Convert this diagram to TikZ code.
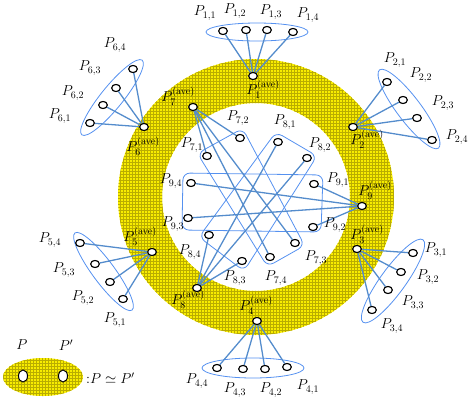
\documentclass[tikz,border=0pt]{standalone}
\usetikzlibrary{shapes.geometric,patterns}
\definecolor{connc}{RGB}{84,140,204}
\definecolor{grpc}{RGB}{85,145,240}
\definecolor{yel}{RGB}{248,236,0}
\definecolor{yelgrid}{RGB}{185,172,0}
\tikzset{
  pt/.style={draw=black, fill=white, ellipse, line width=1pt, minimum width=8.6pt, minimum height=7pt, inner sep=0pt},
  bigpt/.style={draw=black, fill=white, ellipse, line width=1pt, minimum width=9pt, minimum height=12pt, inner sep=0pt},
  lbl/.style={inner sep=0pt, font=\Large},
  conn/.style={draw=connc, line width=1.3pt},
  grp/.style={draw=grpc, line width=0.8pt, ellipse, inner sep=0pt},
  grpr/.style={draw=grpc, line width=0.8pt, rounded corners=7pt},
  ave/.style={inner sep=0pt, font=\Large}
}
\newcommand{\avel}[1]{$P_{#1}^{(\mathrm{ave})}$}
\begin{document}
\begin{tikzpicture}[x=1pt,y=-1pt]
\useasboundingbox (0,0) rectangle (469,405);
% annulus
\coordinate (ctr) at (256,197);
\fill[yel, even odd rule] (ctr) circle (138) (ctr) circle (94);
\fill[pattern=grid, pattern color=yelgrid, even odd rule] (ctr) circle (138) (ctr) circle (94);

% group outlines (ellipses)
\node[grp, minimum width=102pt, minimum height=18pt] (g1) at (257,32) {};
\node[grp, minimum width=98pt, minimum height=24pt, rotate=-53] (g2) at (409,109) {};
\node[grp, minimum width=102pt, minimum height=25pt, rotate=54] (g3) at (393,281) {};
\node[grp, minimum width=102pt, minimum height=20pt] (g4) at (253,368) {};
\node[grp, minimum width=96pt, minimum height=22pt, rotate=-53.5] (g5) at (103.5,271.5) {};
\node[grp, minimum width=96pt, minimum height=22pt, rotate=51] (g6) at (112,97.5) {};

% inner group outlines
\draw[grpr] (197.4,153.4) -- (242.6,128.4) -- (304.6,245.6) -- (267.4,266.6) -- cycle;
\draw[grpr] (276,132) -- (317,156) -- (244,271) -- (199,237) -- cycle;
\draw[grpr] (183,173) -- (323,175) -- (321,232) -- (182,230) -- cycle;

% average nodes
\node[pt] (a1) at (253,76) {};
\node[pt] (a2) at (353,127) {};
\node[pt] (a3) at (357,249) {};
\node[pt] (a4) at (257,321) {};
\node[pt] (a5) at (152,252) {};
\node[pt] (a6) at (144,127) {};
\node[pt] (a7) at (193,107) {};
\node[pt] (a8) at (197,288) {};
\node[pt] (a9) at (362,206) {};

% group points
\node[pt] (p11) at (223,31) {};
\node[pt] (p12) at (246,30) {};
\node[pt] (p13) at (267,30) {};
\node[pt] (p14) at (293,32) {};
\node[pt] (p21) at (387,82) {};
\node[pt] (p22) at (403,100) {};
\node[pt] (p23) at (417,118) {};
\node[pt] (p24) at (432,140) {};
\node[pt] (p31) at (413,253) {};
\node[pt] (p32) at (401,272) {};
\node[pt] (p33) at (388,290) {};
\node[pt] (p34) at (372,310) {};
\node[pt] (p41) at (287,367) {};
\node[pt] (p42) at (265,369) {};
\node[pt] (p43) at (243,369) {};
\node[pt] (p44) at (217,368) {};
\node[pt] (p51) at (123,299) {};
\node[pt] (p52) at (110,282) {};
\node[pt] (p53) at (95,264) {};
\node[pt] (p54) at (80,243) {};
\node[pt] (p61) at (90,123) {};
\node[pt] (p62) at (103,105) {};
\node[pt] (p63) at (116,88) {};
\node[pt] (p64) at (133,69) {};
\node[pt] (p71) at (207,156) {};
\node[pt] (p72) at (240,138) {};
\node[pt] (p73) at (295,243) {};
\node[pt] (p74) at (270,257) {};
\node[pt] (p81) at (278,142) {};
\node[pt] (p82) at (307,158) {};
\node[pt] (p83) at (242,261) {};
\node[pt] (p84) at (209,235) {};
\node[pt] (p91) at (314,184) {};
\node[pt] (p92) at (313,227) {};
\node[pt] (p93) at (188,218) {};
\node[pt] (p94) at (191,183) {};

% connectors
\foreach \g in {1,...,9}{
  \foreach \k in {1,...,4}{
    \draw[conn] (a\g) -- (p\g\k);
  }
}
% redraw nodes on top
\foreach \n in {a1,a2,a3,a4,a5,a6,a7,a8,a9}{
  \node[pt] at (\n) {};
}
\foreach \g in {1,...,9}{
  \foreach \k in {1,...,4}{
    \node[pt] at (p\g\k) {};
  }
}

% labels
\node[ave] (la1) at (263,89) {\avel{1}};
\node[ave] (la2) at (367,139) {\avel{2}};
\node[ave] (la3) at (367,234) {\avel{3}};
\node[ave] (la4) at (256,305) {\avel{4}};
\node[ave] (la5) at (140,236) {\avel{5}};
\node[ave] (la6) at (143,146) {\avel{6}};
\node[ave] (la7) at (178,96) {\avel{7}};
\node[ave] (la8) at (188,299) {\avel{8}};
\node[ave] (la9) at (375,190) {\avel{9}};

\node[lbl] (l11) at (205,13) {$P_{1,1}$};
\node[lbl] (l12) at (235,11) {$P_{1,2}$};
\node[lbl] (l13) at (271,12) {$P_{1,3}$};
\node[lbl] (l14) at (308,15) {$P_{1,4}$};
\node[lbl] (l21) at (395,60) {$P_{2,1}$};
\node[lbl] (l22) at (421,75) {$P_{2,2}$};
\node[lbl] (l23) at (443,103) {$P_{2,3}$};
\node[lbl] (l24) at (457,137) {$P_{2,4}$};
\node[lbl] (l31) at (436,250) {$P_{3,1}$};
\node[lbl] (l32) at (428,277) {$P_{3,2}$};
\node[lbl] (l33) at (413,303) {$P_{3,3}$};
\node[lbl] (l34) at (392,326) {$P_{3,4}$};
\node[lbl] (l41) at (308,387) {$P_{4,1}$};
\node[lbl] (l42) at (271,390) {$P_{4,2}$};
\node[lbl] (l43) at (235,390) {$P_{4,3}$};
\node[lbl] (l44) at (197,381) {$P_{4,4}$};
\node[lbl] (l51) at (115,320) {$P_{5,1}$};
\node[lbl] (l52) at (83,298) {$P_{5,2}$};
\node[lbl] (l53) at (64,270) {$P_{5,3}$};
\node[lbl] (l54) at (50,240) {$P_{5,4}$};
\node[lbl] (l61) at (60,116) {$P_{6,1}$};
\node[lbl] (l62) at (73,93) {$P_{6,2}$};
\node[lbl] (l63) at (90,68) {$P_{6,3}$};
\node[lbl] (l64) at (115,45) {$P_{6,4}$};
\node[lbl] (l71) at (192,145) {$P_{7,1}$};
\node[lbl] (l72) at (238,118) {$P_{7,2}$};
\node[lbl] (l73) at (316,258) {$P_{7,3}$};
\node[lbl] (l74) at (276,278) {$P_{7,4}$};
\node[lbl] (l81) at (285,122) {$P_{8,1}$};
\node[lbl] (l82) at (320,145) {$P_{8,2}$};
\node[lbl] (l83) at (235,278) {$P_{8,3}$};
\node[lbl] (l84) at (190,252) {$P_{8,4}$};
\node[lbl] (l91) at (338,180) {$P_{9,1}$};
\node[lbl] (l92) at (335,225) {$P_{9,2}$};
\node[lbl] (l93) at (173,224) {$P_{9,3}$};
\node[lbl] (l94) at (171,181) {$P_{9,4}$};

% legend
\coordinate (lc) at (43,377);
\fill[yel] (lc) ellipse [x radius=40, y radius=19];
\fill[pattern=grid, pattern color=yelgrid] (lc) ellipse [x radius=40, y radius=19];
\node[bigpt] (lp) at (23,376) {};
\node[bigpt] (lq) at (63,376) {};
\node[lbl] (llp) at (22,345) {$P$};
\node[lbl] (llq) at (66,345) {$P'$};
\node[lbl, anchor=west] (leq) at (86,378) {${:}P\simeq P'$};
\end{tikzpicture}
\end{document}
